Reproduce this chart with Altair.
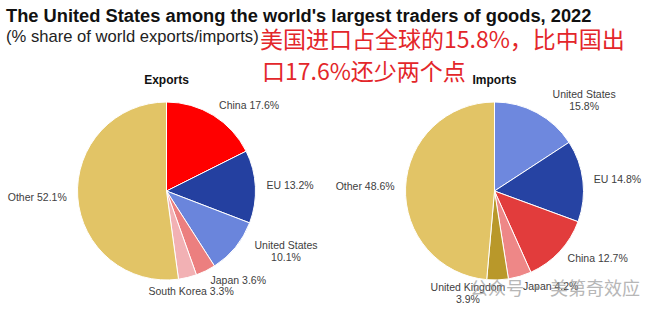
import altair as alt
import pandas as pd

# ---------------- data ----------------
TITLE = "The United States among the world's largest traders of goods, 2022"
SUBTITLE = "(% share of world exports/imports)"
NOTE_LINES = ["美国进口占全球的15.8%，比中国出", "口17.6%还少两个点"]
WATERMARK = "公众号 · 美第奇效应"

EXP_TITLE = "Exports"
EXP_NAMES = ["China", "EU", "United States", "Japan", "South Korea", "Other"]
EXP_VALUES = [17.6, 13.2, 10.1, 3.6, 3.3, 52.1]

IMP_TITLE = "Imports"
IMP_NAMES = ["United States", "EU", "China", "Japan", "United Kingdom", "Other"]
IMP_VALUES = [15.8, 14.8, 12.7, 4.2, 3.9, 48.6]

WRAPPED_NAMES = ["United States", "United Kingdom"]

# ---------------- styles ----------------
EXP_COLORS = ["#ff0000", "#2440a0", "#6a85dc", "#ec7f7f", "#f2b1b4", "#e2c466"]
IMP_COLORS = ["#6e88de", "#2643a3", "#e23c3c", "#ee8787", "#b9982a", "#e2c466"]
FONT = "Liberation Sans"
LABEL_COLOR = "#404040"
CY = 191
R = 89
LABEL_R = 100


def make_df(names, values):
    labels = [
        f"{n}\n{v}%" if n in WRAPPED_NAMES else f"{n} {v}%"
        for n, v in zip(names, values)
    ]
    return pd.DataFrame(
        {"name": names, "value": values, "idx": list(range(len(names))), "label": labels}
    )


def pie(names, values, colors, cx, header):
    df = make_df(names, values)
    base = alt.Chart(df).encode(
        theta=alt.Theta("value:Q", stack=True),
        order=alt.Order("idx:Q", sort="ascending"),
        x=alt.value(cx),
        y=alt.value(CY),
    )
    arc = base.mark_arc(radius=R, stroke="white", strokeWidth=1).encode(
        color=alt.Color(
            "name:N", scale=alt.Scale(domain=names, range=colors), legend=None
        )
    )
    lab = (
        base.transform_joinaggregate(total="sum(value)")
        .transform_window(
            cum="sum(value)", sort=[alt.SortField("idx")], frame=[None, 0]
        )
        .transform_calculate(mid="(datum.cum - datum.value/2)/datum.total*360")
        .transform_calculate(multi="indexof(datum.label, '\\n') >= 0")
        .transform_calculate(
            grp="datum.mid < 165 ? (datum.multi ? 'Lm' : 'L') : "
                "(datum.mid < 175 ? 'C' : (datum.multi ? 'Rm' : 'R'))"
        )
    )
    common = dict(
        baseline="middle", font=FONT, fontSize=10.5,
        color=LABEL_COLOR, lineBreak="\n", lineHeight=12,
    )

    def group(g, **kw):
        return lab.mark_text(**common, **kw).encode(
            text=alt.condition(
                f"datum.grp == '{g}'", alt.Text("label:N"), alt.value("")
            )
        )

    layers = [
        arc,
        group("L", align="left", radius=LABEL_R),
        group("Lm", align="center", radius=LABEL_R, dx=42, dy=-8),
        group("C", align="center", radius=LABEL_R + 4),
        group("Rm", align="center", radius=LABEL_R, dx=-30, dy=-3),
        group("R", align="right", radius=LABEL_R),
    ]
    head = (
        alt.Chart(pd.DataFrame({"t": [header]}))
        .mark_text(font=FONT, fontSize=12, fontWeight="bold", color="#111111",
                   baseline="middle", align="center")
        .encode(text="t:N", x=alt.value(cx), y=alt.value(80))
    )
    return alt.layer(*layers, head)


def txt(s, x, y, **kw):
    return (
        alt.Chart(pd.DataFrame({"t": [s]}))
        .mark_text(align="left", **kw)
        .encode(text="t:N", x=alt.value(x), y=alt.value(y))
    )


exports = pie(EXP_NAMES, EXP_VALUES, EXP_COLORS, 166.5, EXP_TITLE)
imports = pie(IMP_NAMES, IMP_VALUES, IMP_COLORS, 494.5, IMP_TITLE)

title = txt(TITLE, 6, 22, font=FONT, fontSize=18.3, fontWeight="bold",
            color="#111111", baseline="alphabetic")
subtitle = txt(SUBTITLE, 6, 42, font=FONT, fontSize=16.6, color="#222222",
               baseline="alphabetic")
note1 = txt(NOTE_LINES[0], 260, 41, font="Noto Sans CJK SC", fontSize=23,
            color="#e3262a", baseline="middle")
note2 = txt(NOTE_LINES[1], 262, 73, font="Noto Sans CJK SC", fontSize=23,
            color="#e3262a", baseline="middle")
mark = txt(WATERMARK, 470, 290, font="Noto Sans CJK SC", fontSize=18,
           color="#999999", opacity=0.7, baseline="middle")

chart = (
    alt.layer(exports, imports, title, subtitle, note1, note2, mark)
    .resolve_scale(theta="independent", color="independent")
    .properties(width=661, height=321, padding=0,
                autosize=alt.AutoSizeParams(type="none"), background="white")
    .configure_view(stroke=None)
)

chart.save("out.html", embed_options={"renderer": "svg", "actions": False})
